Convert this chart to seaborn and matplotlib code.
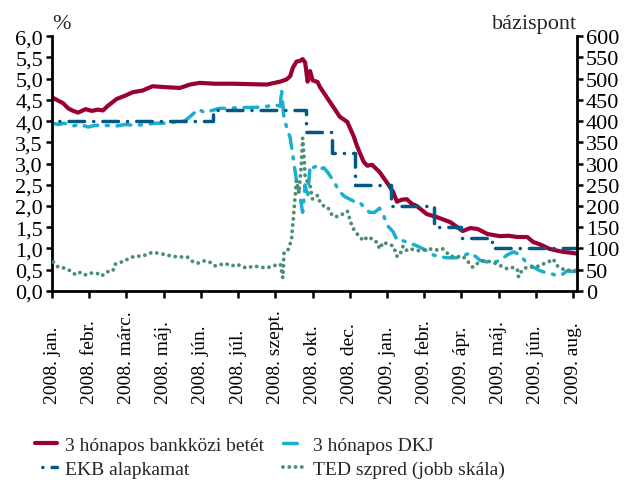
import matplotlib
matplotlib.use("Agg")
import matplotlib.pyplot as plt
import seaborn as sns
import numpy as np
from matplotlib.ticker import FuncFormatter, FixedLocator, MultipleLocator

# ---------------- data ----------------
# x = observation index (tick labels every 30 observations)
tick_labels = ["2008. jan.", "2008. febr.", "2008. márc.", "2008. máj.", "2008. jún.",
               "2008. júl.", "2008. szept.", "2008. okt.", "2008. dec.", "2009. jan.",
               "2009. febr.", "2009. ápr.", "2009. máj.", "2009. jún.", "2009. aug."]
tick_pos = [0, 30, 60, 90, 120, 150, 180, 210, 240, 270, 300, 330, 360, 390, 420]

bank_x = [0, 5, 9, 13, 17, 21, 27, 32, 37, 41, 45, 49, 52, 59, 65, 73, 81, 91, 103, 111,
          119, 131, 146, 160, 173, 184, 189, 192, 194, 197, 200, 202, 204, 206, 208, 210,
          214, 216, 224, 232, 238, 243, 246, 251, 254, 258, 264, 270, 275, 278, 282, 286,
          290, 294, 302, 310, 321, 331, 337, 343, 351, 361, 368, 375, 383, 388, 393, 401,
          407, 412, 418, 423]
bank_y = [4.56, 4.48, 4.42, 4.30, 4.24, 4.20, 4.28, 4.24, 4.27, 4.25, 4.36, 4.45, 4.52,
          4.60, 4.68, 4.72, 4.82, 4.80, 4.78, 4.86, 4.90, 4.88, 4.88, 4.87, 4.86, 4.93,
          4.98, 5.06, 5.25, 5.40, 5.42, 5.46, 5.38, 4.93, 5.18, 4.96, 4.92, 4.80, 4.45,
          4.10, 3.98, 3.65, 3.40, 3.05, 2.95, 2.97, 2.80, 2.55, 2.33, 2.10, 2.15, 2.16,
          2.05, 2.00, 1.81, 1.74, 1.62, 1.41, 1.48, 1.46, 1.34, 1.29, 1.30, 1.27, 1.27,
          1.15, 1.10, 0.99, 0.95, 0.92, 0.90, 0.88]

dkj_x = [0, 5, 10, 16, 23, 29, 35, 43, 51, 59, 67, 75, 83, 91, 99, 107, 113, 118, 123, 129,
         135, 143, 152, 160, 168, 174, 180, 184, 185, 187, 192, 194, 197, 200, 202, 204,
         206, 208, 210, 214, 216, 219, 222, 226, 232, 236, 240, 244, 248, 252, 256, 260,
         264, 267, 270, 275, 278, 283, 289, 295, 302, 307, 313, 319, 326, 331, 337, 341,
         345, 351, 355, 361, 367, 372, 377, 383, 388, 393, 399, 403, 407, 411, 415, 419, 423]
dkj_y = [3.95, 3.92, 3.95, 3.88, 3.92, 3.86, 3.90, 3.90, 3.88, 3.92, 3.90, 3.92, 3.95,
         3.95, 3.98, 4.00, 4.15, 4.28, 4.20, 4.25, 4.30, 4.30, 4.32, 4.32, 4.33, 4.35,
         4.38, 4.35, 4.75, 4.05, 3.60, 3.20, 2.60, 2.20, 1.85, 2.50, 2.20, 2.95, 2.90,
         2.95, 2.87, 2.90, 2.80, 2.63, 2.33, 2.22, 2.16, 2.10, 2.09, 1.95, 1.85, 1.85,
         1.95, 1.80, 1.55, 1.39, 1.20, 1.18, 1.12, 1.05, 0.95, 0.85, 0.80, 0.78, 0.78,
         0.82, 0.90, 0.82, 0.72, 0.68, 0.66, 0.72, 0.85, 0.92, 0.85, 0.65, 0.56, 0.48,
         0.42, 0.40, 0.36, 0.38, 0.47, 0.46, 0.46]

ekb_x = [0, 130, 205, 226, 244, 273, 308, 330, 355, 423]
ekb_y = [4.00, 4.25, 3.75, 3.25, 2.50, 2.00, 1.50, 1.25, 1.00, 1.00]

ted_x = [1, 5, 10, 15, 19, 23, 27, 31, 36, 40, 44, 49, 51, 55, 57, 61, 65, 69, 73, 77, 81,
         85, 89, 93, 97, 101, 105, 109, 113, 117, 123, 127, 131, 135, 139, 145, 149, 154,
         158, 162, 168, 173, 178, 184, 185, 186, 187, 190, 193, 195, 197, 199, 201, 202,
         203, 204, 206, 208, 210, 214, 216, 219, 222, 226, 229, 232, 238, 242, 246, 251,
         254, 256, 259, 262, 264, 267, 270, 275, 278, 280, 283, 286, 289, 293, 297, 302,
         307, 311, 315, 321, 326, 331, 335, 339, 343, 347, 351, 355, 361, 367, 371, 375,
         376, 379, 383, 388, 393, 397, 401, 404, 407, 409, 413, 418, 422]
ted_y = [68, 56, 54, 47, 38, 44, 38, 42, 42, 35, 45, 47, 63, 68, 68, 75, 80, 82, 82, 87, 91,
         89, 87, 84, 82, 80, 80, 80, 70, 65, 71, 68, 59, 61, 65, 59, 63, 56, 54, 59, 56,
         54, 59, 63, 47, 31, 91, 95, 120, 190, 260, 230, 300, 360, 320, 270, 256, 247,
         216, 225, 209, 200, 198, 177, 175, 177, 188, 150, 134, 118, 127, 127, 118, 115,
         99, 115, 111, 106, 82, 82, 106, 95, 99, 96, 94, 98, 99, 96, 99, 82, 80, 82, 70,
         56, 65, 71, 70, 68, 60, 52, 55, 52, 33, 50, 56, 56, 59, 65, 70, 75, 60, 55, 50,
         48, 48]

labels = ["3 hónapos bankközi betét", "3 hónapos DKJ", "EKB alapkamat",
          "TED szpred (jobb skála)"]

# ---------------- style ----------------
sns.set_style("white")
plt.rcParams["font.family"] = ["Liberation Serif", "DejaVu Serif"]
FS = 14
FSY = 16
plt.rcParams["font.size"] = FS

c_red = "#9b0034"
c_cyan = "#1aaed0"
c_dark = "#005a85"
c_green = "#4b8f70"

fig = plt.figure(figsize=(6.27, 4.89), dpi=100)
ax = fig.add_axes([0.083, 0.403, 0.837, 0.521])
ax2 = ax.twinx()

sns.lineplot(x=bank_x, y=bank_y, ax=ax, color=c_red, linewidth=3.0,
             estimator=None, label=labels[0], legend=False)
sns.lineplot(x=dkj_x, y=dkj_y, ax=ax, color=c_cyan, linewidth=2.5,
             estimator=None, label=labels[1], legend=False,
             linestyle=(0, (4.0, 2.5, 0.6, 2.5)), dash_capstyle="round")
sns.lineplot(x=ekb_x, y=ekb_y, ax=ax, color=c_dark, linewidth=2.5,
             estimator=None, label=labels[2], legend=False, drawstyle="steps-post",
             linestyle=(5.0, (4.5, 2.6, 0.05, 2.6)), dash_capstyle="round")
sns.lineplot(x=ted_x, y=ted_y, ax=ax2, color=c_green, linewidth=2.8,
             estimator=None, label=labels[3], legend=False,
             linestyle=(0, (0.01, 1.6)), dash_capstyle="round")

ax.set_xlim(0, 423)
ax.set_ylim(0, 6)
ax2.set_ylim(0, 600)
ax.yaxis.set_major_locator(MultipleLocator(0.5))
ax2.yaxis.set_major_locator(MultipleLocator(50))
ax.yaxis.set_major_formatter(FuncFormatter(lambda v, p: f"{v:.1f}".replace(".", ",")))
ax2.yaxis.set_major_formatter(FuncFormatter(lambda v, p: f"{v:.0f}"))
ax.xaxis.set_major_locator(FixedLocator(tick_pos))
ax.set_xticklabels(tick_labels, rotation=90, va="bottom", ha="center")
ax.set_xlabel("")
ax.set_ylabel("")
ax2.set_ylabel("")

for a in (ax, ax2):
    for s in a.spines.values():
        s.set_linewidth(2.0)
        s.set_color("black")
    a.spines["top"].set_visible(False)
    a.grid(False)
ax.spines["right"].set_visible(False)
ax2.spines["left"].set_visible(False)
ax2.spines["bottom"].set_visible(False)

ax.tick_params(axis="y", direction="out", length=4.5, width=1.8, pad=2, labelsize=FSY,
               left=True, colors="black")
ax2.tick_params(axis="y", direction="out", length=4.5, width=1.8, pad=2, labelsize=FSY,
                right=True, colors="black")
ax.tick_params(axis="x", direction="out", length=5, width=1.8, pad=76, labelsize=FS,
               bottom=True, colors="black")

ax.text(0.0, 1.012, "%", transform=ax.transAxes, ha="left", va="bottom", fontsize=FSY)
ax.text(1.0, 1.012, "bázispont", transform=ax.transAxes, ha="right", va="bottom",
        fontsize=FSY)

lines = ax.get_lines() + ax2.get_lines()
order = [0, 2, 1, 3]
fig.legend([lines[i] for i in order], [labels[i] for i in order], ncol=2,
           loc="upper left", bbox_to_anchor=(0.056, 0.105), frameon=False,
           fontsize=FS, handlelength=1.15, handletextpad=0.4, columnspacing=0.95,
           labelspacing=0.3, borderpad=0, borderaxespad=0)

fig.savefig("out.png", dpi=100)
